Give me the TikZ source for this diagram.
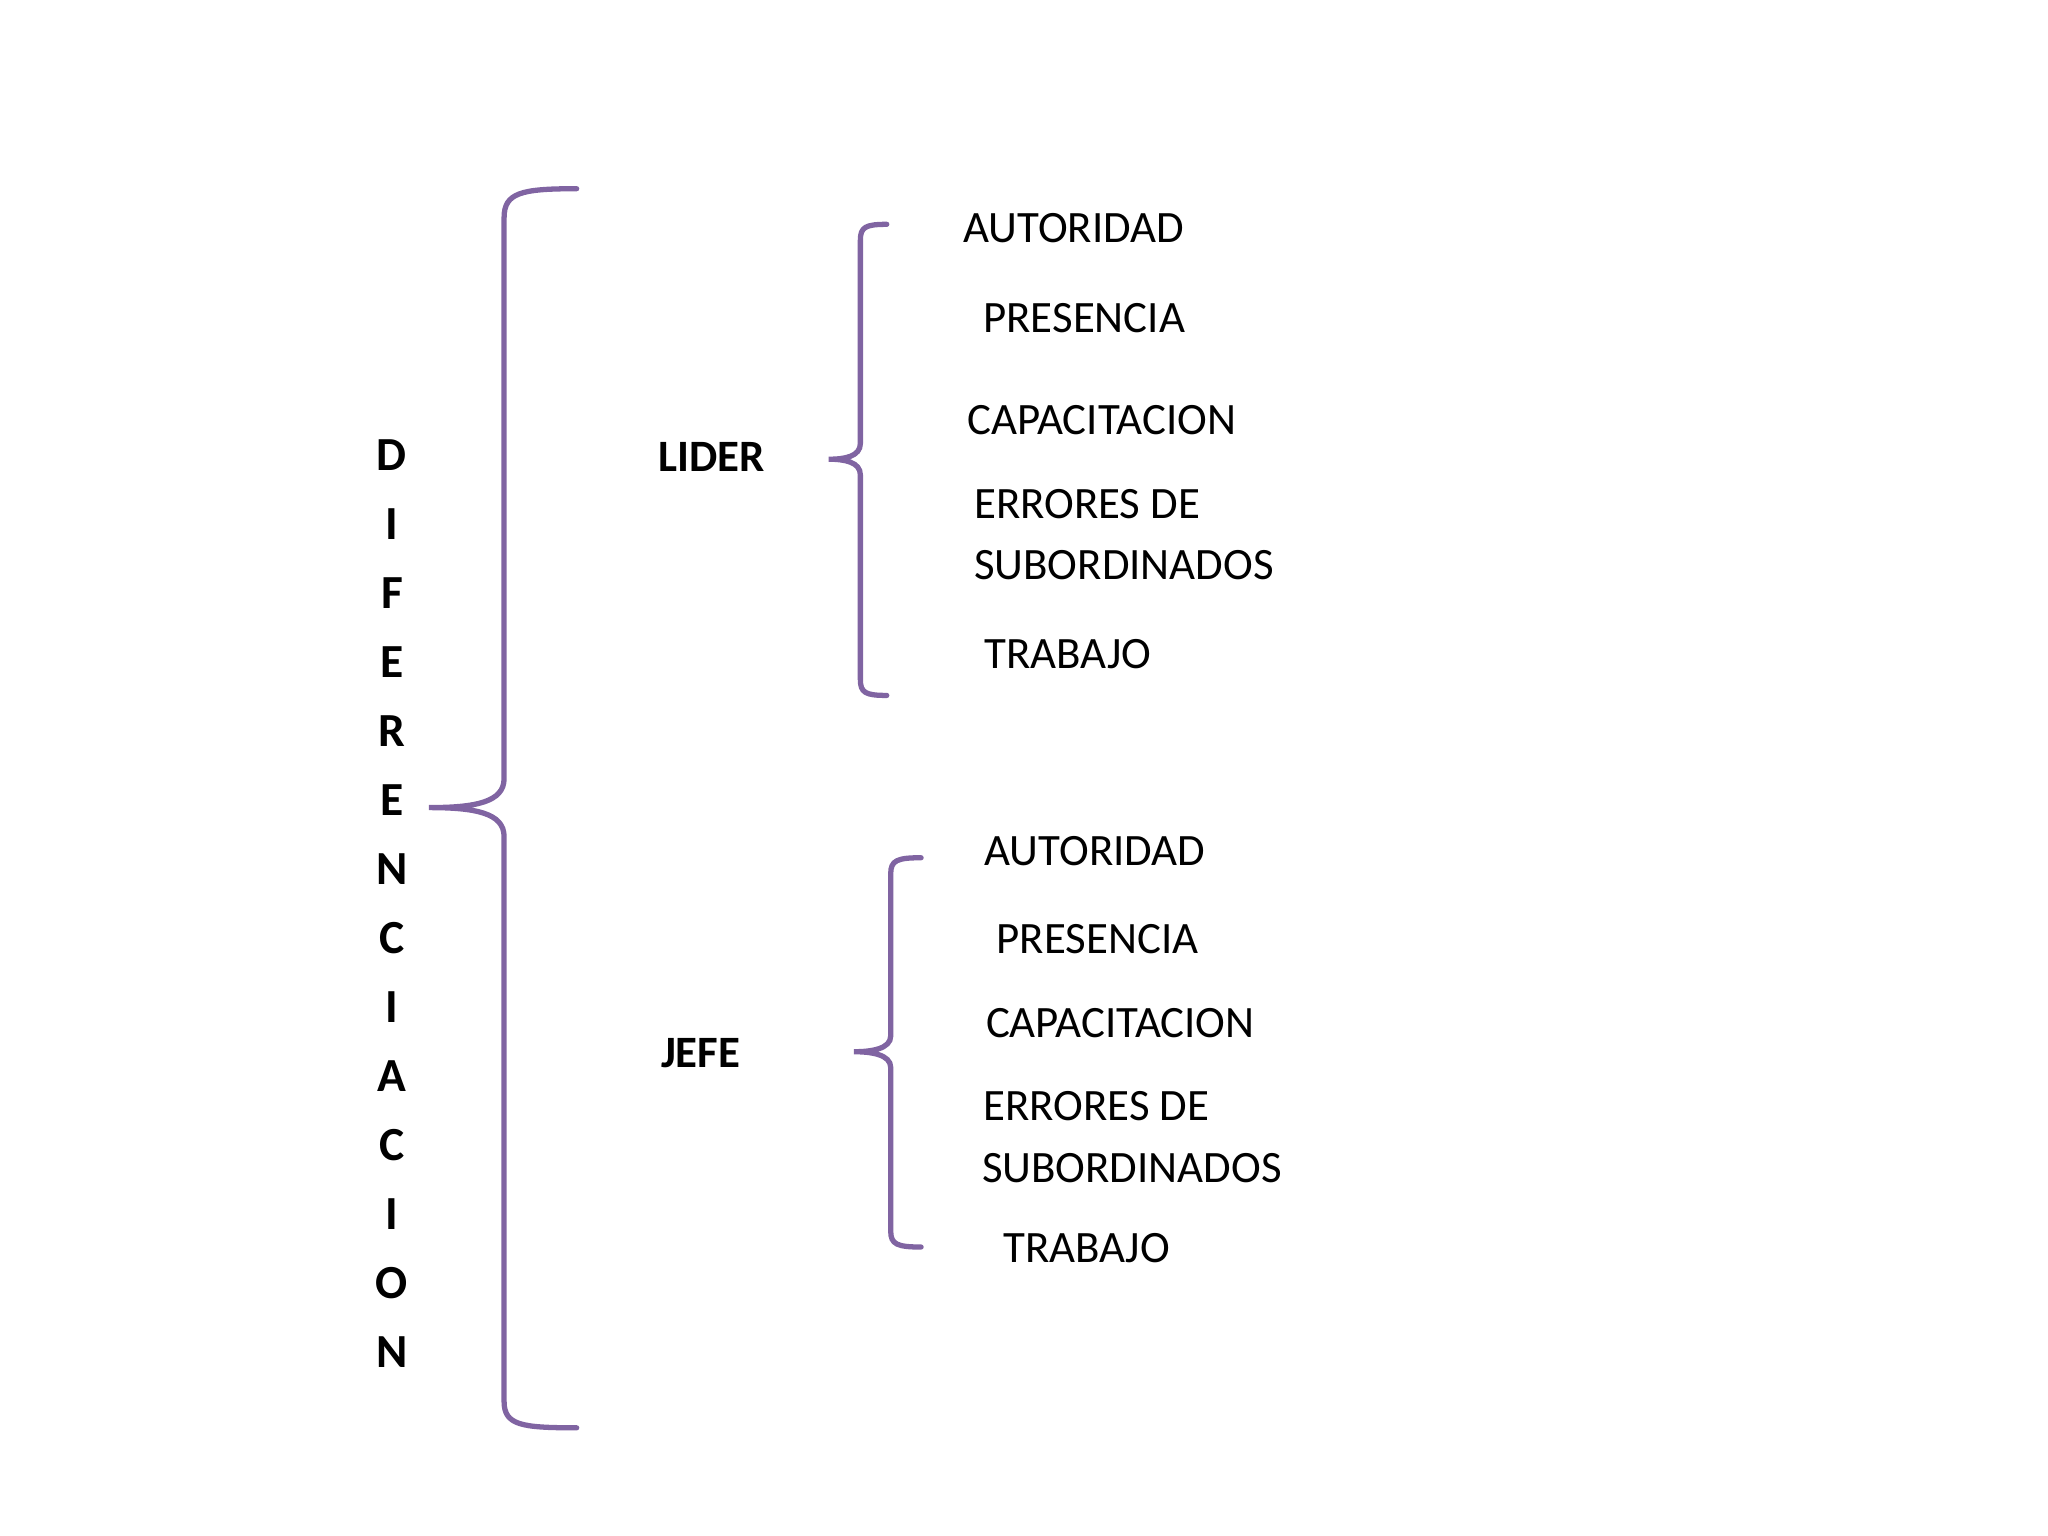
\documentclass[tikz,border=0pt]{standalone}
\usepackage{fontspec}
\setmainfont{Carlito}
\begin{document}
\begin{tikzpicture}[x=1pt,y=-1pt,
  br/.style={draw={rgb,255:red,128;green,100;blue,162},line width=4pt,line cap=round},
  it/.style={anchor=west,inner sep=0pt,font=\fontsize{34}{38}\selectfont},
  hd/.style={inner sep=0pt,font=\bfseries\fontsize{34}{38}\selectfont},
  lt/.style={inner sep=0pt,font=\bfseries\fontsize{36}{40}\selectfont}]
\useasboundingbox (0,0) rectangle (1552,1164);
% big brace
\coordinate (bt) at (437,143); \coordinate (bb) at (437,1082); \coordinate (btip) at (325,612);
\draw[br] (bt) .. controls (395,143) and (382,146) .. (382,165) -- (382,590)
  .. controls (382,608) and (360,612) .. (btip)
  .. controls (360,612) and (382,616) .. (382,634) -- (382,1062)
  .. controls (382,1080) and (395,1082) .. (bb);
% lider brace
\coordinate (lt) at (672,170); \coordinate (lb) at (672,527); \coordinate (ltip) at (628,348);
\draw[br] (lt) .. controls (656,170) and (652,172) .. (652,182) -- (652,336)
  .. controls (652,346) and (640,348) .. (ltip)
  .. controls (640,348) and (652,350) .. (652,360) -- (652,515)
  .. controls (652,525) and (656,527) .. (lb);
% jefe brace
\coordinate (jt) at (698,650); \coordinate (jb) at (698,945); \coordinate (jtip) at (647,797);
\draw[br] (jt) .. controls (680,650) and (675,652) .. (675,662) -- (675,785)
  .. controls (675,795) and (660,797) .. (jtip)
  .. controls (660,797) and (675,799) .. (675,809) -- (675,933)
  .. controls (675,943) and (680,945) .. (jb);
% vertical word
\foreach \ch [count=\i from 0] in {D,I,F,E,R,E,N,C,I,A,C,I,O,N}
  \node[lt] (v\i) at (297,{345+52.3*\i}) {\ch};
\node[hd] (lider) at (539,346) {LIDER};
\node[hd] (jefe) at (531,798) {JEFE};
\node[it] (l1) at (730,173) {AUTORIDAD};
\node[it] (l2) at (745,241) {PRESENCIA};
\node[it] (l3) at (733,318) {CAPACITACION};
\node[it] (l4) at (738,382) {ERRORES DE};
\node[it] (l5) at (738,428) {SUBORDINADOS};
\node[it] (l6) at (746,496) {TRABAJO};
\node[it] (j1) at (746,645) {AUTORIDAD};
\node[it] (j2) at (755,712) {PRESENCIA};
\node[it] (j3) at (747,775) {CAPACITACION};
\node[it] (j4) at (745,838) {ERRORES DE};
\node[it] (j5) at (744,885) {SUBORDINADOS};
\node[it] (j6) at (760,946) {TRABAJO};
\end{tikzpicture}
\end{document}
